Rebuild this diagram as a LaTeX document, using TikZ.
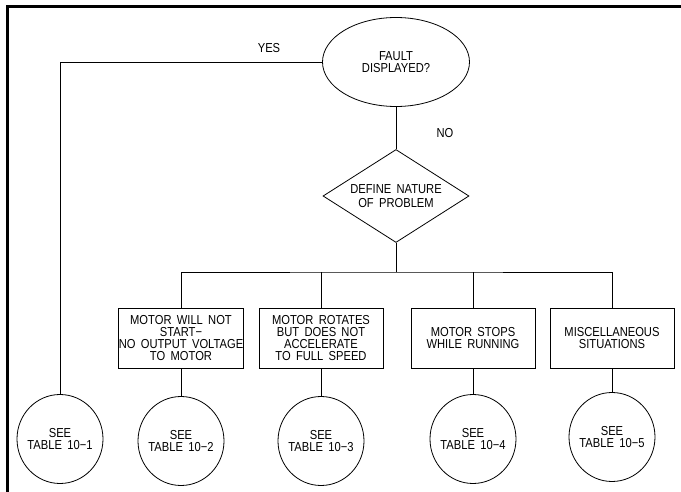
\documentclass[tikz,border=0pt]{standalone}
\usepackage{fontspec}
\setmainfont{Liberation Sans}[FakeStretch=0.86, WordSpace=1.7]
\usepackage{tikz}
\usetikzlibrary{shapes.geometric}

\tikzset{
  flow/.style={line width=0.8, align=center, font=\fontsize{13}{12}\selectfont},
  question/.style={flow, draw, ellipse, inner sep=0, minimum width=147, minimum height=89},
  decision/.style={flow, draw, diamond, aspect=1.57, inner sep=0, minimum width=146, minimum height=93,
                   font=\fontsize{13}{14}\selectfont},
  symptom/.style={flow, draw, rectangle, inner sep=0, minimum width=124, minimum height=60},
  tableref/.style={flow, draw, ellipse, inner xsep=-8, inner ysep=0, minimum width=86, minimum height=89},
  answer/.style={flow},
  link/.style={line width=0.8}
}

\begin{document}
\begin{tikzpicture}[x=1pt, y=-1pt]

  \useasboundingbox (0, 0) rectangle (681, 492);
  \draw[line width=2.6] (7.5, 492) -- (7.5, 6.5) -- (681, 6.5);

  \node[question] (fault) at (396, 62) {FAULT\\DISPLAYED?};
  \node[decision] (nature) at (396, 196) {DEFINE NATURE\\OF PROBLEM};
  \coordinate (bus) at (396, 272);

  \node[answer] (yes) at (269, 48) {YES};
  \node[answer] (no) at (445, 133) {NO};

  \node[symptom] (nostart) at (181, 338) {MOTOR WILL NOT\\START−\\NO OUTPUT VOLTAGE\\TO MOTOR};
  \node[symptom] (noaccel) at (321, 338) {MOTOR ROTATES\\BUT DOES NOT\\ACCELERATE\\TO FULL SPEED};
  \node[symptom] (stops) at (473, 338) {MOTOR STOPS\\WHILE RUNNING};
  \node[symptom] (misc) at (612, 338) {MISCELLANEOUS\\SITUATIONS};

  \node[tableref] (table1) at (60, 439) {SEE\\TABLE 10−1};
  \node[tableref] (table2) at (181, 441) {SEE\\TABLE 10−2};
  \node[tableref] (table3) at (321, 441) {SEE\\TABLE 10−3};
  \node[tableref] (table4) at (473, 439) {SEE\\TABLE 10−4};
  \node[tableref] (table5) at (612, 437) {SEE\\TABLE 10−5};

  \draw[link] (fault.west) -| (table1.north);
  \draw[link] (fault) -- (nature);
  \draw[link] (nature) -- (bus);
  \draw[link] (nostart.north) |- (bus) -| (misc.north);
  \draw[link] (noaccel.north) -- (noaccel.north |- bus);
  \draw[link] (stops.north) -- (stops.north |- bus);

  \draw[link] (nostart) -- (table2);
  \draw[link] (noaccel) -- (table3);
  \draw[link] (stops) -- (table4);
  \draw[link] (misc) -- (table5);

\end{tikzpicture}
\end{document}
